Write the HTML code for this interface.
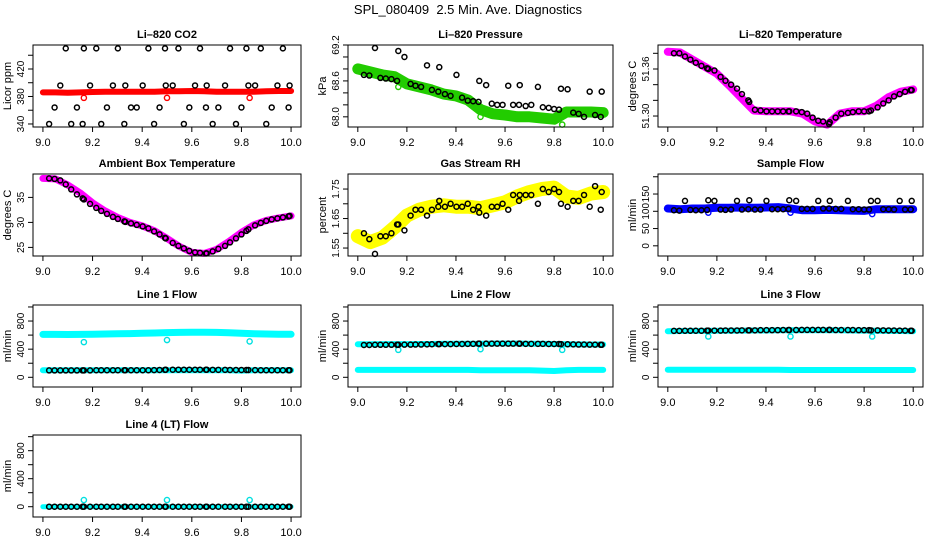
<!DOCTYPE html>
<html><head><meta charset="utf-8">
<style>
html,body{margin:0;padding:0;background:#fff;}
svg{display:block;font-family:"Liberation Sans",sans-serif;}
</style></head>
<body>
<svg id="chart" width="936" height="540" viewBox="0 0 936 540" xmlns="http://www.w3.org/2000/svg">
<rect width="936" height="540" fill="#fff"/>
<text x="468" y="14" text-anchor="middle" font-size="13">SPL_080409&#160; 2.5 Min. Ave. Diagnostics</text>
</svg>
<script>
// shared x data
const bandX = [9.0,9.05,9.1,9.15,9.2,9.25,9.3,9.35,9.4,9.45,9.5,9.55,9.6,9.65,9.7,9.75,9.8,9.85,9.9,9.95,10.0];
const ptX = [9.025,9.047,9.07,9.092,9.114,9.137,9.16,9.165,9.19,9.215,9.235,9.258,9.282,9.302,9.328,9.332,9.355,9.378,9.402,9.425,9.448,9.47,9.492,9.495,9.523,9.546,9.568,9.59,9.613,9.633,9.657,9.66,9.684,9.707,9.734,9.754,9.778,9.8,9.82,9.828,9.855,9.878,9.9,9.922,9.945,9.967,9.99,9.994];
const outX = [9.165,9.5,9.833];
const xTicks = [9.0,9.2,9.4,9.6,9.8,10.0];
const xTickLabels = ["9.0","9.2","9.4","9.6","9.8","10.0"];

// panel 1: CO2
const co2Band = [386,386,385.5,386,386.5,387,387,387,387,387,387.5,387.5,388,387.5,387,387,387,387,387.5,388,388];
const co2Out = [378,378,378];
const co2Pts = [340,364,396,450,340,364,340,450,396,450,340,364,396,450,340,396,364,364,396,450,340,364,450,396,396,450,340,364,396,450,364,396,340,364,396,450,340,364,450,396,396,450,340,364,396,450,364,396];
// panel 2: pressure
const presBand = [68.8,68.75,68.7,68.67,68.55,68.5,68.45,68.38,68.35,68.28,68.12,68.05,68.03,68.0,68.0,67.98,67.96,68.08,68.08,68.08,68.07];
const presOut = [68.5,68.0,67.87];
const presPts = [68.7,68.69,69.15,68.65,68.64,68.63,68.6,69.1,69.0,68.55,68.52,68.5,68.86,68.45,68.42,68.83,68.38,68.35,68.7,68.32,68.27,68.26,68.25,68.6,68.53,68.22,68.2,68.2,68.52,68.2,68.2,68.53,68.18,68.2,68.5,68.16,68.15,68.13,68.12,68.47,68.46,68.07,68.05,68.0,68.42,68.03,68.0,68.42];
// panel 3: Li-820 temperature
const tempBand = [51.382,51.381,51.372,51.363,51.354,51.339,51.323,51.307,51.306,51.306,51.306,51.303,51.293,51.289,51.303,51.306,51.306,51.313,51.324,51.331,51.334];
const tempPts = [51.380,51.380,51.376,51.372,51.368,51.364,51.361,51.360,51.358,51.350,51.345,51.340,51.335,51.328,51.320,51.318,51.308,51.307,51.306,51.306,51.306,51.306,51.306,51.306,51.306,51.305,51.303,51.298,51.294,51.293,51.290,51.292,51.298,51.303,51.304,51.305,51.306,51.306,51.306,51.307,51.311,51.316,51.320,51.325,51.328,51.331,51.333,51.333];
// panel 4: ambient box temperature
const ambBand = [38.8,38.7,37.5,35.9,33.9,32.3,31.0,30.0,29.3,28.3,26.8,25.2,24.0,23.8,24.6,26.2,28.0,29.5,30.4,30.9,31.3];
const ambPts = [38.8,38.7,38.4,37.6,36.6,35.6,34.8,34.6,33.7,32.9,32.3,31.7,31.1,30.7,30.2,30.1,29.8,29.5,29.2,28.8,28.2,27.6,26.9,26.8,25.9,25.3,24.8,24.3,24.0,23.9,23.8,23.8,24.2,24.7,25.3,26.0,26.8,27.6,28.3,28.6,29.4,29.9,30.3,30.6,30.8,31.0,31.2,31.3];
// panel 5: RH
const rhBand = [1.59,1.57,1.585,1.62,1.66,1.68,1.69,1.695,1.69,1.69,1.685,1.695,1.705,1.725,1.74,1.75,1.755,1.725,1.72,1.735,1.74];
const rhPts = [1.60,1.58,1.53,1.59,1.59,1.60,1.63,1.63,1.61,1.66,1.68,1.68,1.66,1.68,1.69,1.71,1.69,1.70,1.69,1.69,1.70,1.68,1.69,1.67,1.66,1.69,1.69,1.70,1.68,1.73,1.71,1.73,1.73,1.73,1.70,1.75,1.74,1.75,1.74,1.70,1.69,1.71,1.71,1.73,1.69,1.76,1.68,1.74];
// panel 6: sample flow
const sfBand = [108,106,108,108,110,110,111,110,111,112,108,103,103,104,103,102,101,106,106,106,106];
const sfOut = [96,96,92];
const sfPts = [103,102,130,104,103,103,104,132,130,105,104,105,130,105,106,132,105,105,130,106,106,106,107,132,130,107,107,107,130,108,108,130,107,107,130,106,106,105,105,130,130,106,106,105,130,105,105,130];
// panel 7-10: line flows
const l1Band = [610,610,608,610,612,615,620,622,625,630,635,638,640,640,638,632,625,620,615,612,612];
const l1Low = [100,100,100,100,100,100,100,100,100,100,100,100,100,100,100,100,95,100,100,100,100];
const l1Out = [500,530,510];
const l1Pts = [98,98,98,98,98,98,98,98,98,100,100,100,100,100,100,100,100,100,100,100,102,104,106,108,108,108,108,108,108,108,108,108,106,106,106,104,104,104,104,104,102,100,100,100,100,100,100,100];
const l2Band = [470,470,472,472,472,474,474,476,476,476,478,480,480,480,478,476,474,470,468,466,466];
const l2Low = [105,105,105,105,105,105,105,105,105,105,100,100,100,100,100,95,90,100,105,105,105];
const l2Out = [390,400,390];
const l2Pts = [460,460,462,462,462,462,462,462,464,464,466,466,468,470,472,472,472,472,474,474,476,476,478,478,478,478,478,478,478,478,478,478,476,476,476,476,474,474,474,472,470,468,466,466,464,464,462,462];
const l3Band = [655,658,660,660,662,662,664,665,666,668,668,670,670,670,668,666,664,662,660,658,656];
const l3Low = [108,108,108,106,106,106,106,106,106,106,104,104,104,104,104,104,104,104,104,104,104];
const l3Out = [580,580,580];
const l3Pts = [660,660,662,662,662,662,664,664,664,664,666,666,666,668,668,668,668,670,670,670,670,672,672,672,672,674,674,674,674,674,674,674,672,672,672,672,670,670,670,668,668,668,666,666,664,664,662,662];
const l4Band = [0,0,0,0,0,0,0,0,0,0,0,0,0,0,0,0,0,0,0,0,0];
const l4Out = [95,95,95];
const l4Pts = [0,0,0,0,0,0,0,0,0,0,0,0,0,0,0,0,0,0,0,0,0,0,0,0,0,0,0,0,0,0,0,0,0,0,0,0,0,0,0,0,0,0,0,0,0,0,0,0];

const svg = document.getElementById('chart');
const NS = 'http://www.w3.org/2000/svg';
function mk(tag, attrs, parent){const e=document.createElementNS(NS,tag);for(const k in attrs)e.setAttribute(k,attrs[k]);(parent||svg).appendChild(e);return e;}

const colL=[33,348,658], colW=[268,265,265], rowT=[45,174,305,435], BH=82;

function panel(cfg){
  const L=colL[cfg.c], W=colW[cfg.c], T=rowT[cfg.r], B=T+BH;
  const g = mk('g',{});
  
  
  const xs = v => L + (v - 8.96) / 1.08 * W;
  const ys = v => B - (v - cfg.ylo) / (cfg.yhi - cfg.ylo) * BH;
  const t = mk('text',{x:L+W/2,y:T-7,'text-anchor':'middle','font-size':'11','font-weight':'bold'},g);
  t.textContent = cfg.title;
  
  
  (cfg.bands||[]).forEach(b=>{
    const pts = bandX.map((x,i)=>xs(x).toFixed(1)+','+ys(b.v[i]).toFixed(1)).join(' ');
    const pl = mk('polyline',{points:pts,fill:'none',stroke:b.col,'stroke-width':b.w,'stroke-linecap':'round','stroke-linejoin':'round'},g);
    
    
  });
  if(cfg.out){ cfg.out.forEach((v,i)=>{
    const c = mk('circle',{cx:xs(outX[i]),cy:ys(v),r:2.6,fill:'none',stroke:cfg.outCol,'stroke-width':1.4},g);
    
    
  });}
  cfg.pts.forEach((v,i)=>{
    const c = mk('circle',{cx:xs(ptX[i]),cy:ys(v),r:2.5,fill:'none',stroke:'#000','stroke-width':1.5},g);
    
    
  });
  const bx = mk('rect',{x:L,y:T,width:W,height:BH,fill:'none',stroke:'#000','stroke-width':1},g);
  
  
  xTicks.forEach((v,i)=>{
    const x=xs(v);
    mk('line',{x1:x,y1:B,x2:x,y2:B+5,stroke:'#000'},g);
    const tl = mk('text',{x:x,y:B+19,'text-anchor':'middle','font-size':'11'},g);
    tl.textContent = xTickLabels[i];
    
    
  });
  cfg.yt.forEach(v=>{
    const y=ys(v);
    mk('line',{x1:L-5,y1:y,x2:L,y2:y,stroke:'#000'},g);
  });
  cfg.yl.forEach((lab,i)=>{
    const y=ys(cfg.ylv[i]);
    const tl = mk('text',{x:L-9,y:y,'text-anchor':'middle','font-size':'10',transform:`rotate(-90 ${L-9} ${y})`},g);
    tl.textContent = lab;
    
    
  });
  const yt = mk('text',{x:L-22,y:T+BH/2,'text-anchor':'middle','font-size':'11',transform:`rotate(-90 ${L-22} ${T+BH/2})`},g);
  yt.textContent = cfg.ytitle;
  
  
}

const flowT=[0,200,400,600,800,1000], flowL=['0','400','800'], flowV=[0,400,800];
panel({name:'co2-panel',c:0,r:0,title:'Li\u2013820 CO2',ytitle:'Licor ppm',ylo:335.6,yhi:454.9,yt:[340,360,380,400,420,440],yl:['340','380','420'],ylv:[340,380,420],
  bands:[{v:co2Band,col:'#ff0000',w:6}],out:co2Out,outCol:'#ff0000',pts:co2Pts});
panel({name:'pressure-panel',c:1,r:0,title:'Li\u2013820 Pressure',ytitle:'kPa',ylo:67.83,yhi:69.2,yt:[68.0,68.2,68.4,68.6,68.8,69.0,69.2],yl:['68.0','68.6','69.2'],ylv:[68.0,68.6,69.2],
  bands:[{v:presBand,col:'#22cc00',w:11}],out:presOut,outCol:'#22cc00',pts:presPts});
panel({name:'li820-temperature-panel',c:2,r:0,title:'Li\u2013820 Temperature',ytitle:'degrees C',ylo:51.286,yhi:51.3906,yt:[51.30,51.32,51.34,51.36,51.38],yl:['51.30','51.36'],ylv:[51.30,51.36],
  bands:[{v:tempBand,col:'#ff00ff',w:8}],pts:tempPts});
panel({name:'ambient-temperature-panel',c:0,r:1,title:'Ambient Box Temperature',ytitle:'degrees C',ylo:23.28,yhi:39.68,yt:[25,30,35],yl:['25','30','35'],ylv:[25,30,35],
  bands:[{v:ambBand,col:'#ff00ff',w:7}],pts:ambPts});
panel({name:'rh-panel',c:1,r:1,title:'Gas Stream RH',ytitle:'percent',ylo:1.523,yhi:1.801,yt:[1.55,1.60,1.65,1.70,1.75],yl:['1.55','1.65','1.75'],ylv:[1.55,1.65,1.75],
  bands:[{v:rhBand,col:'#ffff00',w:14}],pts:rhPts});
panel({name:'sample-flow-panel',c:2,r:1,title:'Sample Flow',ytitle:'ml/min',ylo:-29.5,yhi:208,yt:[0,50,100,150,200],yl:['0','50','100','150'],ylv:[0,50,100,150],
  bands:[{v:sfBand,col:'#0000ff',w:8}],out:sfOut,outCol:'#0000ff',pts:sfPts});
panel({name:'line1-flow-panel',c:0,r:2,title:'Line 1 Flow',ytitle:'ml/min',ylo:-138,yhi:1028,yt:flowT,yl:flowL,ylv:flowV,
  bands:[{v:l1Band,col:'#00ffff',w:7},{v:l1Low,col:'#00ffff',w:6}],out:l1Out,outCol:'#00e0e0',pts:l1Pts});
panel({name:'line2-flow-panel',c:1,r:2,title:'Line 2 Flow',ytitle:'ml/min',ylo:-138,yhi:1028,yt:flowT,yl:flowL,ylv:flowV,
  bands:[{v:l2Band,col:'#00ffff',w:6},{v:l2Low,col:'#00ffff',w:6}],out:l2Out,outCol:'#00e0e0',pts:l2Pts});
panel({name:'line3-flow-panel',c:2,r:2,title:'Line 3 Flow',ytitle:'ml/min',ylo:-138,yhi:1028,yt:flowT,yl:flowL,ylv:flowV,
  bands:[{v:l3Band,col:'#00ffff',w:6},{v:l3Low,col:'#00ffff',w:6}],out:l3Out,outCol:'#00e0e0',pts:l3Pts});
panel({name:'line4-flow-panel',c:0,r:3,title:'Line 4 (LT) Flow',ytitle:'ml/min',ylo:-147,yhi:1024,yt:flowT,yl:flowL,ylv:flowV,
  bands:[{v:l4Band,col:'#00ffff',w:5}],out:l4Out,outCol:'#00e0e0',pts:l4Pts});
</script>
</body></html>
